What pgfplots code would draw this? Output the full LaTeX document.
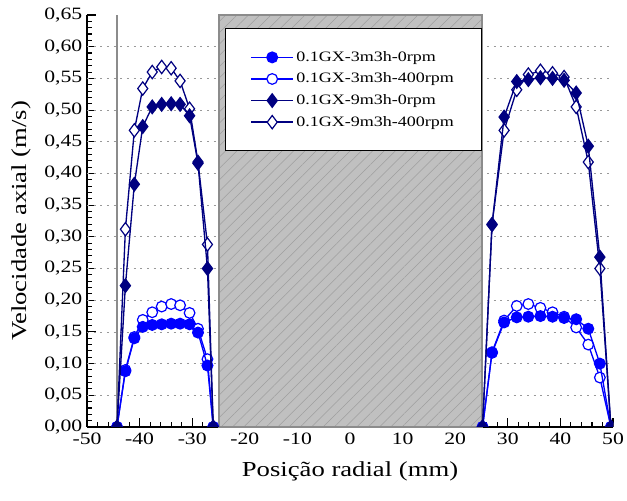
\documentclass[border=0pt]{standalone}
\usepackage{fontspec}
\setmainfont{Liberation Serif}[FakeStretch=1.25]
\usepackage{pgfplots}
\pgfplotsset{compat=1.18}
\usetikzlibrary{patterns.meta}
\definecolor{cblue}{RGB}{0,0,255}
\definecolor{cnavy}{RGB}{0,0,128}
\definecolor{boxfill}{RGB}{192,192,192}
\definecolor{boxline}{RGB}{140,140,140}

\pgfplotstableread{
x y
-44.3 0
-42.7 0.088
-41.0 0.140
-39.4 0.158
-37.6 0.161
-35.8 0.162
-34.0 0.163
-32.3 0.163
-30.5 0.162
-28.9 0.149
-27.1 0.097
-26.0 0
0 nan
25.2 0
27.0 0.117
29.3 0.165
31.7 0.173
33.9 0.174
36.2 0.175
38.5 0.174
40.7 0.172
43.0 0.170
45.3 0.155
47.5 0.100
49.6 0
}\dataA

\pgfplotstableread{
x y
-44.3 0
-42.7 0.090
-41.0 0.142
-39.4 0.169
-37.6 0.181
-35.8 0.190
-34.0 0.194
-32.3 0.192
-30.5 0.180
-28.9 0.155
-27.1 0.107
-26.0 0
0 nan
25.2 0
27.0 0.118
29.3 0.168
31.7 0.191
33.9 0.194
36.2 0.188
38.5 0.181
40.7 0.174
43.0 0.157
45.3 0.130
47.5 0.078
49.6 0
}\dataB

\pgfplotstableread{
x y
-44.3 0
-42.7 0.223
-41.0 0.383
-39.4 0.474
-37.6 0.505
-35.8 0.509
-34.0 0.510
-32.3 0.509
-30.5 0.491
-28.9 0.416
-27.1 0.250
-26.0 0
0 nan
25.2 0
27.0 0.319
29.3 0.489
31.7 0.545
33.9 0.548
36.2 0.551
38.5 0.550
40.7 0.547
43.0 0.527
45.3 0.443
47.5 0.268
49.6 0
}\dataC

\pgfplotstableread{
x y
-44.3 0
-42.7 0.312
-41.0 0.468
-39.4 0.534
-37.6 0.560
-35.8 0.568
-34.0 0.566
-32.3 0.546
-30.5 0.502
-28.9 0.418
-27.1 0.288
-26.0 0
0 nan
25.2 0
27.0 0.320
29.3 0.468
31.7 0.532
33.9 0.556
36.2 0.562
38.5 0.558
40.7 0.552
43.0 0.505
45.3 0.418
47.5 0.250
49.6 0
}\dataD

\begin{document}
\begin{tikzpicture}
\begin{axis}[
  scale only axis,
  width=394.5pt, height=309pt,
  xmin=-50, xmax=50, ymin=0, ymax=0.65,
  axis x line*=bottom, axis y line*=left,
  axis line style={line width=1pt, black},
  tick align=inside,
  major tick length=7pt, minor tick length=4pt,
  every tick/.style={black, line width=0.8pt},
  xtick={-50,-40,-30,-20,-10,0,10,20,30,40,50},
  ytick={0,0.05,0.10,0.15,0.20,0.25,0.30,0.35,0.40,0.45,0.50,0.55,0.60,0.65},
  minor x tick num=4, minor y tick num=4,
  /pgf/number format/assume math mode=true,
  tick label style={font=\fontsize{13}{15}\selectfont},
  yticklabel style={/pgf/number format/fixed, /pgf/number format/fixed zerofill, /pgf/number format/precision=2, /pgf/number format/use comma},
  xticklabel style={yshift=-1pt},
  xlabel={Posição radial (mm)},
  ylabel={Velocidade axial (m/s)},
  every axis x label/.style={at={(rel axis cs:0.5,0)}, anchor=center, yshift=-33pt, font=\fontsize{16}{19}\selectfont},
  every axis y label/.style={at={(rel axis cs:0,0.5)}, anchor=center, rotate=90, yshift=49pt, font=\fontsize{16}{19}\selectfont},
  unbounded coords=jump,
  clip mode=individual,
  clip marker paths=true,
  legend cell align=left,
  legend style={at={(rel axis cs:0.262,0.968)}, anchor=north west, draw=black, line width=0.8pt, fill=white,
    font=\fontsize{10.8}{12}\selectfont, inner xsep=19pt, inner ysep=15pt, row sep=3.2pt},
  legend image code/.code={\draw[mark repeat=2,mark phase=2] plot coordinates {(0cm,0cm) (0.55cm,0cm) (1.1cm,0cm)};},
]
% grid
\pgfplotsinvokeforeach{0.05,0.10,0.15,0.20,0.25,0.30,0.35,0.40,0.45,0.50,0.55,0.60}{
  \draw[gray!80, line width=0.6pt, dash pattern=on 1.5pt off 3.5pt] (axis cs:-50,#1) -- (axis cs:50,#1);
}
% central body
\fill[boxfill] (axis cs:-25,0) rectangle (axis cs:25,0.65);
\fill[pattern={Lines[angle=45,distance=6pt,line width=0.4pt]}, pattern color=gray!75] (axis cs:-25,0) rectangle (axis cs:25,0.65);
\draw[boxline, line width=1.5pt] (axis cs:-25,0) rectangle (axis cs:25,0.65);
\fill[boxline] (axis cs:-44.55,0) rectangle (axis cs:-44.05,0.65);

\addplot[cblue, line width=1pt, mark=*, mark size=4pt, mark options={fill=white, line width=0.9pt}, forget plot] table {\dataB};
\addplot[cblue, line width=1pt, mark=*, mark size=4pt, mark options={fill=cblue}, forget plot] table {\dataA};
\addplot[cnavy, line width=1pt, mark=diamond*, mark size=5pt, mark options={fill=white, line width=0.9pt}, forget plot] table {\dataD};
\addplot[cnavy, line width=1pt, mark=diamond*, mark size=5pt, mark options={fill=cnavy}, forget plot] table {\dataC};

\addlegendimage{cblue, line width=1pt, mark=*, mark size=4pt, mark options={fill=cblue}}
\addlegendentry{0.1GX-3m3h-0rpm}
\addlegendimage{cblue, line width=1pt, mark=*, mark size=4pt, mark options={fill=white, line width=0.9pt}}
\addlegendentry{0.1GX-3m3h-400rpm}
\addlegendimage{cnavy, line width=1pt, mark=diamond*, mark size=5pt, mark options={fill=cnavy}}
\addlegendentry{0.1GX-9m3h-0rpm}
\addlegendimage{cnavy, line width=1pt, mark=diamond*, mark size=5pt, mark options={fill=white, line width=0.9pt}}
\addlegendentry{0.1GX-9m3h-400rpm}
\end{axis}
\pgfresetboundingbox
\path ([xshift=-65.25pt, yshift=-55.5pt]current axis.south west) rectangle ([xshift=10.5pt, yshift=11.25pt]current axis.north east);
\end{tikzpicture}
\end{document}
